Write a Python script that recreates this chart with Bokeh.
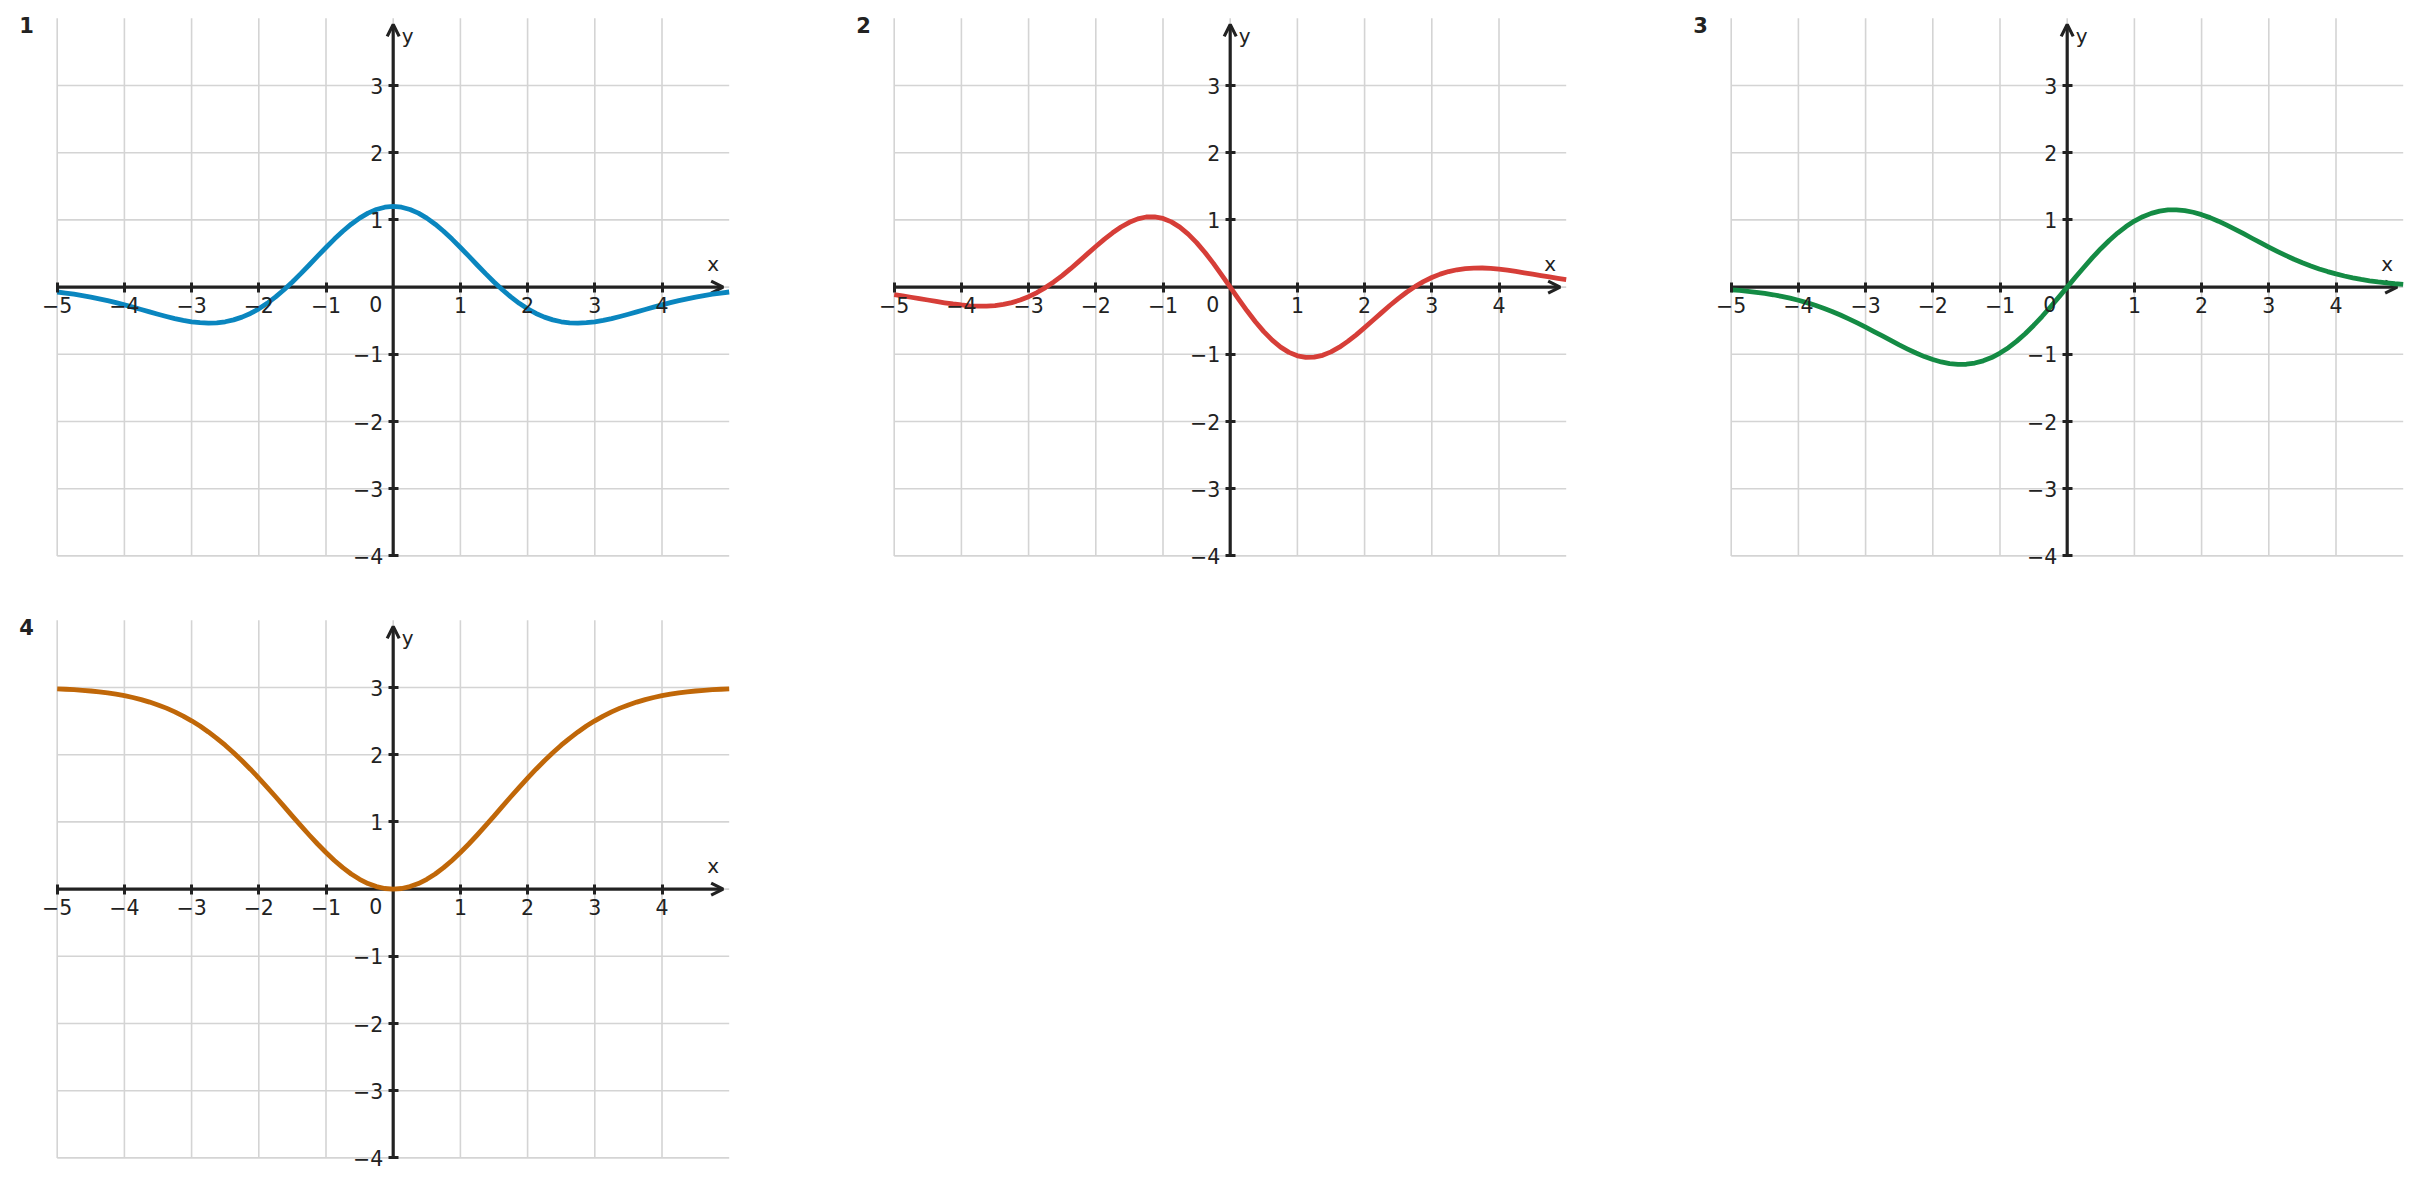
from bokeh.plotting import figure
from bokeh.layouts import row, column
from bokeh.models import FixedTicker, Arrow, OpenHead, Label, ColumnDataSource
from bokeh.embed import file_html
from bokeh.resources import INLINE

# ---------------- data ----------------
x_values = [-5.0, -4.875, -4.75, -4.625, -4.5, -4.375, -4.25, -4.125,
            -4.0, -3.875, -3.75, -3.625, -3.5, -3.375, -3.25, -3.125,
            -3.0, -2.875, -2.75, -2.625, -2.5, -2.375, -2.25, -2.125,
            -2.0, -1.875, -1.75, -1.625, -1.5, -1.375, -1.25, -1.125,
            -1.0, -0.875, -0.75, -0.625, -0.5, -0.375, -0.25, -0.125,
            0.0,
            0.125, 0.25, 0.375, 0.5, 0.625, 0.75, 0.875, 1.0,
            1.125, 1.25, 1.375, 1.5, 1.625, 1.75, 1.875, 2.0,
            2.125, 2.25, 2.375, 2.5, 2.625, 2.75, 2.875, 3.0,
            3.125, 3.25, 3.375, 3.5, 3.625, 3.75, 3.875, 4.0,
            4.125, 4.25, 4.375, 4.5, 4.625, 4.75, 4.875, 5.0]

curve1_y = [-0.073, -0.088, -0.106, -0.126, -0.148, -0.174, -0.202, -0.232,
            -0.264, -0.298, -0.333, -0.369, -0.404, -0.437, -0.468, -0.495,
            -0.516, -0.530, -0.535, -0.531, -0.516, -0.488, -0.447, -0.392,
            -0.324, -0.241, -0.146, -0.040, 0.077, 0.200, 0.329, 0.460,
            0.589, 0.714, 0.831, 0.936, 1.027, 1.101, 1.155, 1.189,
            1.200,
            1.189, 1.155, 1.101, 1.027, 0.936, 0.831, 0.714, 0.589,
            0.460, 0.329, 0.200, 0.077, -0.040, -0.146, -0.241, -0.324,
            -0.392, -0.447, -0.488, -0.516, -0.531, -0.535, -0.530, -0.516,
            -0.495, -0.468, -0.437, -0.404, -0.369, -0.333, -0.298, -0.264,
            -0.232, -0.202, -0.174, -0.148, -0.126, -0.106, -0.088, -0.073]

curve2_y = [-0.113, -0.131, -0.151, -0.171, -0.192, -0.213, -0.233, -0.251,
            -0.266, -0.278, -0.284, -0.283, -0.275, -0.258, -0.231, -0.193,
            -0.143, -0.081, -0.007, 0.077, 0.172, 0.274, 0.383, 0.494,
            0.604, 0.710, 0.808, 0.894, 0.964, 1.015, 1.043, 1.045,
            1.022, 0.971, 0.893, 0.789, 0.662, 0.515, 0.353, 0.179,
            0.000,
            -0.179, -0.353, -0.515, -0.662, -0.789, -0.893, -0.971, -1.022,
            -1.045, -1.043, -1.015, -0.964, -0.894, -0.808, -0.710, -0.604,
            -0.494, -0.383, -0.274, -0.172, -0.077, 0.007, 0.081, 0.143,
            0.193, 0.231, 0.258, 0.275, 0.283, 0.284, 0.278, 0.266,
            0.251, 0.233, 0.213, 0.192, 0.171, 0.151, 0.131, 0.113]

curve3_y = [-0.040, -0.050, -0.063, -0.077, -0.094, -0.114, -0.138, -0.165,
            -0.196, -0.231, -0.270, -0.314, -0.362, -0.415, -0.472, -0.532,
            -0.595, -0.661, -0.727, -0.794, -0.860, -0.922, -0.981, -1.034,
            -1.078, -1.114, -1.138, -1.150, -1.148, -1.130, -1.097, -1.048,
            -0.982, -0.901, -0.804, -0.694, -0.571, -0.438, -0.296, -0.150,
            0.000,
            0.150, 0.296, 0.438, 0.571, 0.694, 0.804, 0.901, 0.982,
            1.048, 1.097, 1.130, 1.148, 1.150, 1.138, 1.114, 1.078,
            1.034, 0.981, 0.922, 0.860, 0.794, 0.727, 0.661, 0.595,
            0.532, 0.472, 0.415, 0.362, 0.314, 0.270, 0.231, 0.196,
            0.165, 0.138, 0.114, 0.094, 0.077, 0.063, 0.050, 0.040]

curve4_y = [2.980, 2.974, 2.967, 2.958, 2.948, 2.935, 2.919, 2.900,
            2.878, 2.851, 2.820, 2.783, 2.741, 2.693, 2.637, 2.575,
            2.504, 2.426, 2.339, 2.244, 2.141, 2.029, 1.910, 1.784,
            1.652, 1.515, 1.374, 1.231, 1.087, 0.945, 0.805, 0.671,
            0.544, 0.426, 0.319, 0.225, 0.146, 0.083, 0.037, 0.009,
            0.000,
            0.009, 0.037, 0.083, 0.146, 0.225, 0.319, 0.426, 0.544,
            0.671, 0.805, 0.945, 1.087, 1.231, 1.374, 1.515, 1.652,
            1.784, 1.910, 2.029, 2.141, 2.244, 2.339, 2.426, 2.504,
            2.575, 2.637, 2.693, 2.741, 2.783, 2.820, 2.851, 2.878,
            2.900, 2.919, 2.935, 2.948, 2.958, 2.967, 2.974, 2.980]

panel_labels = ["1", "2", "3", "4"]

# grid positions; the origin label "0" is drawn once, below-left of the origin
x_ticks = [-5, -4, -3, -2, -1, 0, 1, 2, 3, 4]
x_tick_labels = ["\u22125", "\u22124", "\u22123", "\u22122", "\u22121", "", "1", "2", "3", "4"]
y_ticks = [-4, -3, -2, -1, 0, 1, 2, 3]
y_tick_labels = ["\u22124", "\u22123", "\u22122", "\u22121", "", "1", "2", "3"]
origin_label = "0"

for ys in (curve1_y, curve2_y, curve3_y, curve4_y):
    assert len(ys) == len(x_values)

# ---------------- styling / layout constants ----------------
X_MIN, X_MAX = -5, 5
Y_MIN, Y_MAX = -4, 4
X_ARROW_END = 4.91
Y_ARROW_END = 3.91
UNIT = 67.2          # pixels per data unit
PAD_LEFT = 56.7      # pixels from figure edge to x = X_MIN
PAD_TOP = 17.8       # pixels from figure edge to y = Y_MAX
FONT = "DejaVu Sans"
TICK_FONT_SIZE = "20.5px"
LETTER_FONT_SIZE = "20px"
INK = "#222222"
GRID = "#d4d4d4"
COLORS = ["#0a86bf", "#d63e38", "#148b44", "#c06708"]
LABEL_RAISE = 9.5    # correction for Label baseline placement


def make_panel(ys, color, label, width, height):
    x0 = X_MIN - PAD_LEFT / UNIT
    y1 = Y_MAX + PAD_TOP / UNIT
    p = figure(width=width, height=height,
               x_range=(x0, x0 + width / UNIT), y_range=(y1 - height / UNIT, y1),
               output_backend="svg", toolbar_location=None, min_border=0)
    p.outline_line_color = None
    p.background_fill_color = "white"
    p.border_fill_color = "white"
    p.xgrid.visible = False
    p.ygrid.visible = False

    # grid lines, limited to the drawing area
    p.segment(x0=x_ticks, y0=Y_MIN, x1=x_ticks, y1=Y_MAX,
              line_color=GRID, line_width=1.6, level="image")
    p.segment(x0=X_MIN, y0=y_ticks, x1=X_MAX, y1=y_ticks,
              line_color=GRID, line_width=1.6, level="image")

    # axes through the origin (ticks and labels from Bokeh's own axes)
    xt = [t for t, s in zip(x_ticks, x_tick_labels) if s]
    yt = [t for t, s in zip(y_ticks, y_tick_labels) if s]
    p.xaxis.ticker = FixedTicker(ticks=xt)
    p.yaxis.ticker = FixedTicker(ticks=yt)
    p.xaxis.major_label_overrides = {t: s for t, s in zip(x_ticks, x_tick_labels) if s}
    p.yaxis.major_label_overrides = {t: s for t, s in zip(y_ticks, y_tick_labels) if s}
    for ax in (p.xaxis, p.yaxis):
        ax.fixed_location = 0
        ax.axis_line_color = None
        ax.major_tick_in = 5
        ax.major_tick_out = 5
        ax.major_tick_line_color = INK
        ax.major_tick_line_width = 3
        ax.minor_tick_line_color = None
        ax.major_label_text_font = FONT
        ax.major_label_text_font_size = TICK_FONT_SIZE
        ax.major_label_text_color = INK
    p.xaxis.major_label_standoff = 5
    p.yaxis.major_label_standoff = 5

    # axis lines with arrow heads
    p.add_layout(Arrow(x_start=X_MIN, y_start=0, x_end=X_ARROW_END, y_end=0,
                       line_color=INK, line_width=3.2, level="underlay",
                       end=OpenHead(size=12, line_color=INK, line_width=3.2)))
    p.add_layout(Arrow(x_start=0, y_start=Y_MIN, x_end=0, y_end=Y_ARROW_END,
                       line_color=INK, line_width=3.2, level="underlay",
                       end=OpenHead(size=12, line_color=INK, line_width=3.2)))

    src = ColumnDataSource(dict(x=x_values, y=ys))
    p.line("x", "y", source=src, line_color=color, line_width=4.8,
           line_join="round", line_cap="butt")

    p.add_layout(Label(x=X_MAX, y=0, x_offset=-16, y_offset=14 + LABEL_RAISE, text="x",
                       text_align="center", text_baseline="alphabetic",
                       text_font=FONT, text_font_size=LETTER_FONT_SIZE, text_color=INK))
    p.add_layout(Label(x=0, y=Y_MAX, x_offset=8.5, y_offset=-27 + LABEL_RAISE, text="y",
                       text_align="left", text_baseline="alphabetic",
                       text_font=FONT, text_font_size=LETTER_FONT_SIZE, text_color=INK))
    p.add_layout(Label(x=0, y=0, x_offset=-11, y_offset=-26 + LABEL_RAISE, text=origin_label,
                       text_align="right", text_baseline="alphabetic",
                       text_font=FONT, text_font_size=TICK_FONT_SIZE, text_color=INK))
    p.add_layout(Label(x=X_MIN, y=Y_MAX, x_offset=-30.7, y_offset=-16.5 + LABEL_RAISE, text=label,
                       text_align="center", text_baseline="alphabetic",
                       text_font=FONT, text_font_size="21px", text_font_style="bold",
                       text_color=INK))
    return p


p1 = make_panel(curve1_y, COLORS[0], panel_labels[0], 837, 602)
p2 = make_panel(curve2_y, COLORS[1], panel_labels[1], 837, 602)
p3 = make_panel(curve3_y, COLORS[2], panel_labels[2], 740, 602)
p4 = make_panel(curve4_y, COLORS[3], panel_labels[3], 837, 570)

layout = column(row(p1, p2, p3), row(p4))

with open("out.html", "w") as f:
    f.write(file_html(layout, INLINE))
